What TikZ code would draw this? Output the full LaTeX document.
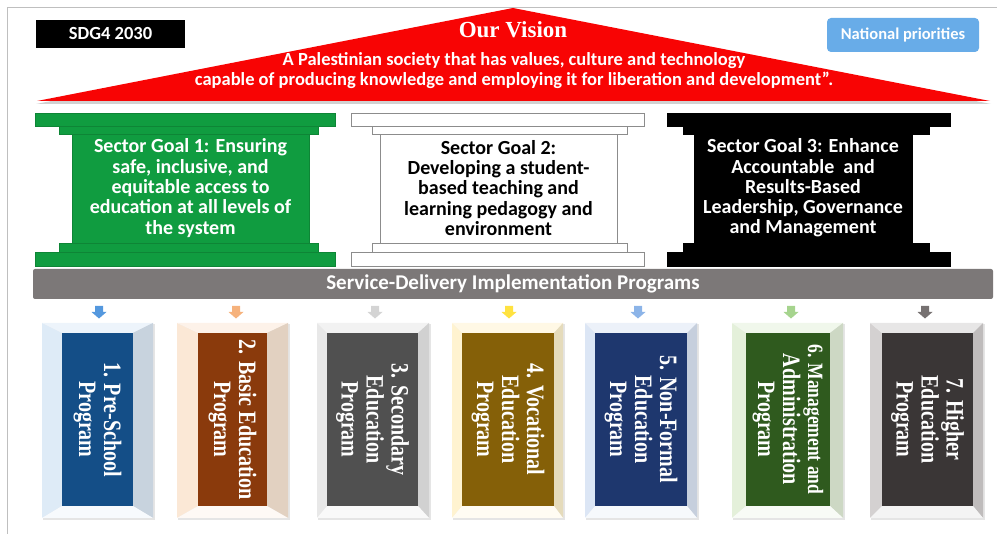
\documentclass[tikz,border=0pt]{standalone}
\usepackage{fontspec}
\setmainfont{Carlito}
\newfontfamily\progfont{Liberation Serif}
\usetikzlibrary{
    calc,
    positioning
}
\definecolor{visionred}{RGB}{248,4,4}
\definecolor{goalgreen}{RGB}{16,156,64}
\definecolor{bargray}{RGB}{124,120,120}
\definecolor{natblue}{RGB}{104,172,232}
%
\definecolor{progtint1}{RGB}{222,235,247}
\definecolor{progtint2}{RGB}{251,232,214}
\definecolor{progtint3}{RGB}{232,232,232}
\definecolor{progtint4}{RGB}{255,243,208}
\definecolor{progtint5}{RGB}{220,230,245}
\definecolor{progtint6}{RGB}{228,240,218}
\definecolor{progtint7}{RGB}{212,209,209}
\definecolor{progfill1}{RGB}{20,78,135}
\definecolor{progfill2}{RGB}{138,58,12}
\definecolor{progfill3}{RGB}{80,80,80}
\definecolor{progfill4}{RGB}{133,96,8}
\definecolor{progfill5}{RGB}{30,55,110}
\definecolor{progfill6}{RGB}{47,90,30}
\definecolor{progfill7}{RGB}{58,54,54}
\definecolor{progarrow1}{RGB}{84,152,222}
\definecolor{progarrow2}{RGB}{246,178,124}
\definecolor{progarrow3}{RGB}{212,212,212}
\definecolor{progarrow4}{RGB}{255,226,64}
\definecolor{progarrow5}{RGB}{140,180,232}
\definecolor{progarrow6}{RGB}{166,212,142}
\definecolor{progarrow7}{RGB}{118,113,113}
\tikzset {
    frame line/.style = {draw = black!25, line width = 0.8pt},
    tag box/.style = {inner sep = 0pt, text = white, font = \bfseries\fontsize{18.5}{20}\selectfont},
    vision title/.style = {text = white, font = \progfont\bfseries\fontsize{23}{26}\selectfont},
    vision text/.style = {text = white, align = center, font = \bfseries\fontsize{18.5}{20}\selectfont},
    green slab/.style = {fill = goalgreen, draw = goalgreen!85!black, line width = 0.6pt},
    white slab/.style = {fill = white, draw = black!45, line width = 0.6pt},
    black slab/.style = {fill = black, draw = black, line width = 0.6pt},
    goal text/.style = {align = center, font = \bfseries\fontsize{20}{20.3}\selectfont},
    sd bar/.style = {
        fill = bargray, rounded corners = 2pt, inner sep = 0pt,
        minimum width = 960pt, minimum height = 30pt,
        text = white, font = \bfseries\fontsize{21}{22}\selectfont
    },
    prog text/.style = {
        rotate = -90, yscale = 1.25, align = center, text = white,
        font = \progfont\bfseries\fontsize{20}{20}\selectfont
    }
}
% #1 index, #2-#3 frame left/right, #4-#5 panel left/right, #6 arrow x, #7 label
\newcommand{\progbox}[7]{
    \coordinate (arr#1) at (#6, 312);
    \fill [progarrow#1] ($(arr#1) + (-4, -6)$) -- ($(arr#1) + (4, -6)$) -- ($(arr#1) + (4, 0)$)
        -- ($(arr#1) + (7.5, 0)$) -- ($(arr#1) + (0, 6.5)$) -- ($(arr#1) + (-7.5, 0)$)
        -- ($(arr#1) + (-4, 0)$) -- cycle;
    \fill [black!10] (#2 + 1, 324) rectangle (#3 + 2, 520);
    \fill [progtint#1] (#2, 323) -- (#4, 333) -- (#4, 506) -- (#2, 518) -- cycle;
    \fill [progtint#1!55!white] (#2, 323) -- (#3, 323) -- (#5, 333) -- (#4, 333) -- cycle;
    \fill [progtint#1!90!black] (#3, 323) -- (#3, 518) -- (#5, 506) -- (#5, 333) -- cycle;
    \fill [progtint#1!25!white] (#2, 518) -- (#3, 518) -- (#5, 506) -- (#4, 506) -- cycle;
    \fill [progfill#1] (#4, 333) rectangle (#5, 506);
    \node (prog#1) [prog text] at ({(#4 + #5) / 2}, 419.5) {#7};
}
\begin{document}
\begin{tikzpicture}[x = 1pt, y = -1pt]
    \useasboundingbox (0, 0) rectangle (997, 534);
    \draw [frame line] (7, 534) -- (7, 7) -- (997, 7);
    % roof
    \coordinate (apex) at (513, 8);
    \coordinate (eaveL) at (37, 101);
    \coordinate (eaveR) at (990, 101);
    \fill [black!18] ($(apex) + (0, 3)$) -- ($(eaveR) + (1, 3)$) -- ($(eaveL) + (-1, 3)$) -- cycle;
    \fill [visionred] (apex) -- (eaveR) -- (eaveL) -- cycle;
    \node (vision) [vision title] at (513, 30) {Our Vision};
    \node (visiontext) [vision text] at (514, 71) {A Palestinian society that has values, culture and technology\\
        capable of producing knowledge and employing it for liberation and development”.};
    \node (sdg) [tag box, fill = black, minimum width = 149pt, minimum height = 28pt] at (110.5, 34) {SDG4 2030};
    \node (natprio) [tag box, fill = natblue, rounded corners = 4pt, minimum width = 152pt,
        minimum height = 34pt, font = \bfseries\fontsize{16.5}{18}\selectfont] at (903, 35) {National priorities};
    % pillar 1
    \draw [green slab] (35, 113) rectangle (335, 126);
    \draw [green slab] (59, 126) rectangle (318, 134);
    \draw [green slab] (72, 134) rectangle (309, 243);
    \draw [green slab] (59, 243) rectangle (318, 252);
    \draw [green slab] (35, 252) rectangle (335, 266);
    \node (goal1) [goal text, text = white] at (190.5, 188) {Sector Goal 1: Ensuring\\safe, inclusive, and\\equitable access to\\education at all levels of\\the system};
    % pillar 2
    \draw [white slab] (351, 113) rectangle (644, 126);
    \draw [white slab] (372, 126) rectangle (627, 134);
    \draw [white slab] (380, 134) rectangle (617, 243);
    \draw [white slab] (372, 243) rectangle (627, 252);
    \draw [white slab] (351, 252) rectangle (644, 266);
    \node (goal2) [goal text, text = black] at (498.5, 188) {Sector Goal 2:\\Developing a student-\\based teaching and\\learning pedagogy and\\environment};
    % pillar 3
    \draw [black slab] (667, 113) rectangle (950, 126);
    \draw [black slab] (683, 126) rectangle (929, 134);
    \draw [black slab] (694, 134) rectangle (912, 243);
    \draw [black slab] (683, 243) rectangle (929, 252);
    \draw [black slab] (667, 252) rectangle (950, 266);
    \node (goal3) [goal text, text = white] at (803, 188) {Sector Goal 3: Enhance\\Accountable\ \ and\\Results-Based\\Leadership, Governance\\and Management};
    % service delivery bar
    \node (sdbar) [sd bar] at (513, 284) {Service-Delivery Implementation Programs};
    % programs
    \progbox{1}{42}{153}{62}{133}{99}{1. Pre-School\\Program}
    \progbox{2}{177}{288}{198}{267}{236}{2. Basic Education\\Program}
    \progbox{3}{317}{429}{327}{418}{375}{3. Secondary\\Education\\Program}
    \progbox{4}{452}{563}{462}{554}{509}{4. Vocational\\Education\\Program}
    \progbox{5}{585}{697}{595}{687}{638}{5. Non-Formal\\Education\\Program}
    \progbox{6}{732}{843}{746}{830}{791}{\fontsize{17.5}{18}\selectfont 6. Management and\\Administration\\Program}
    \progbox{7}{870}{983}{882}{973}{925}{7. Higher\\Education\\Program}
\end{tikzpicture}
\end{document}
